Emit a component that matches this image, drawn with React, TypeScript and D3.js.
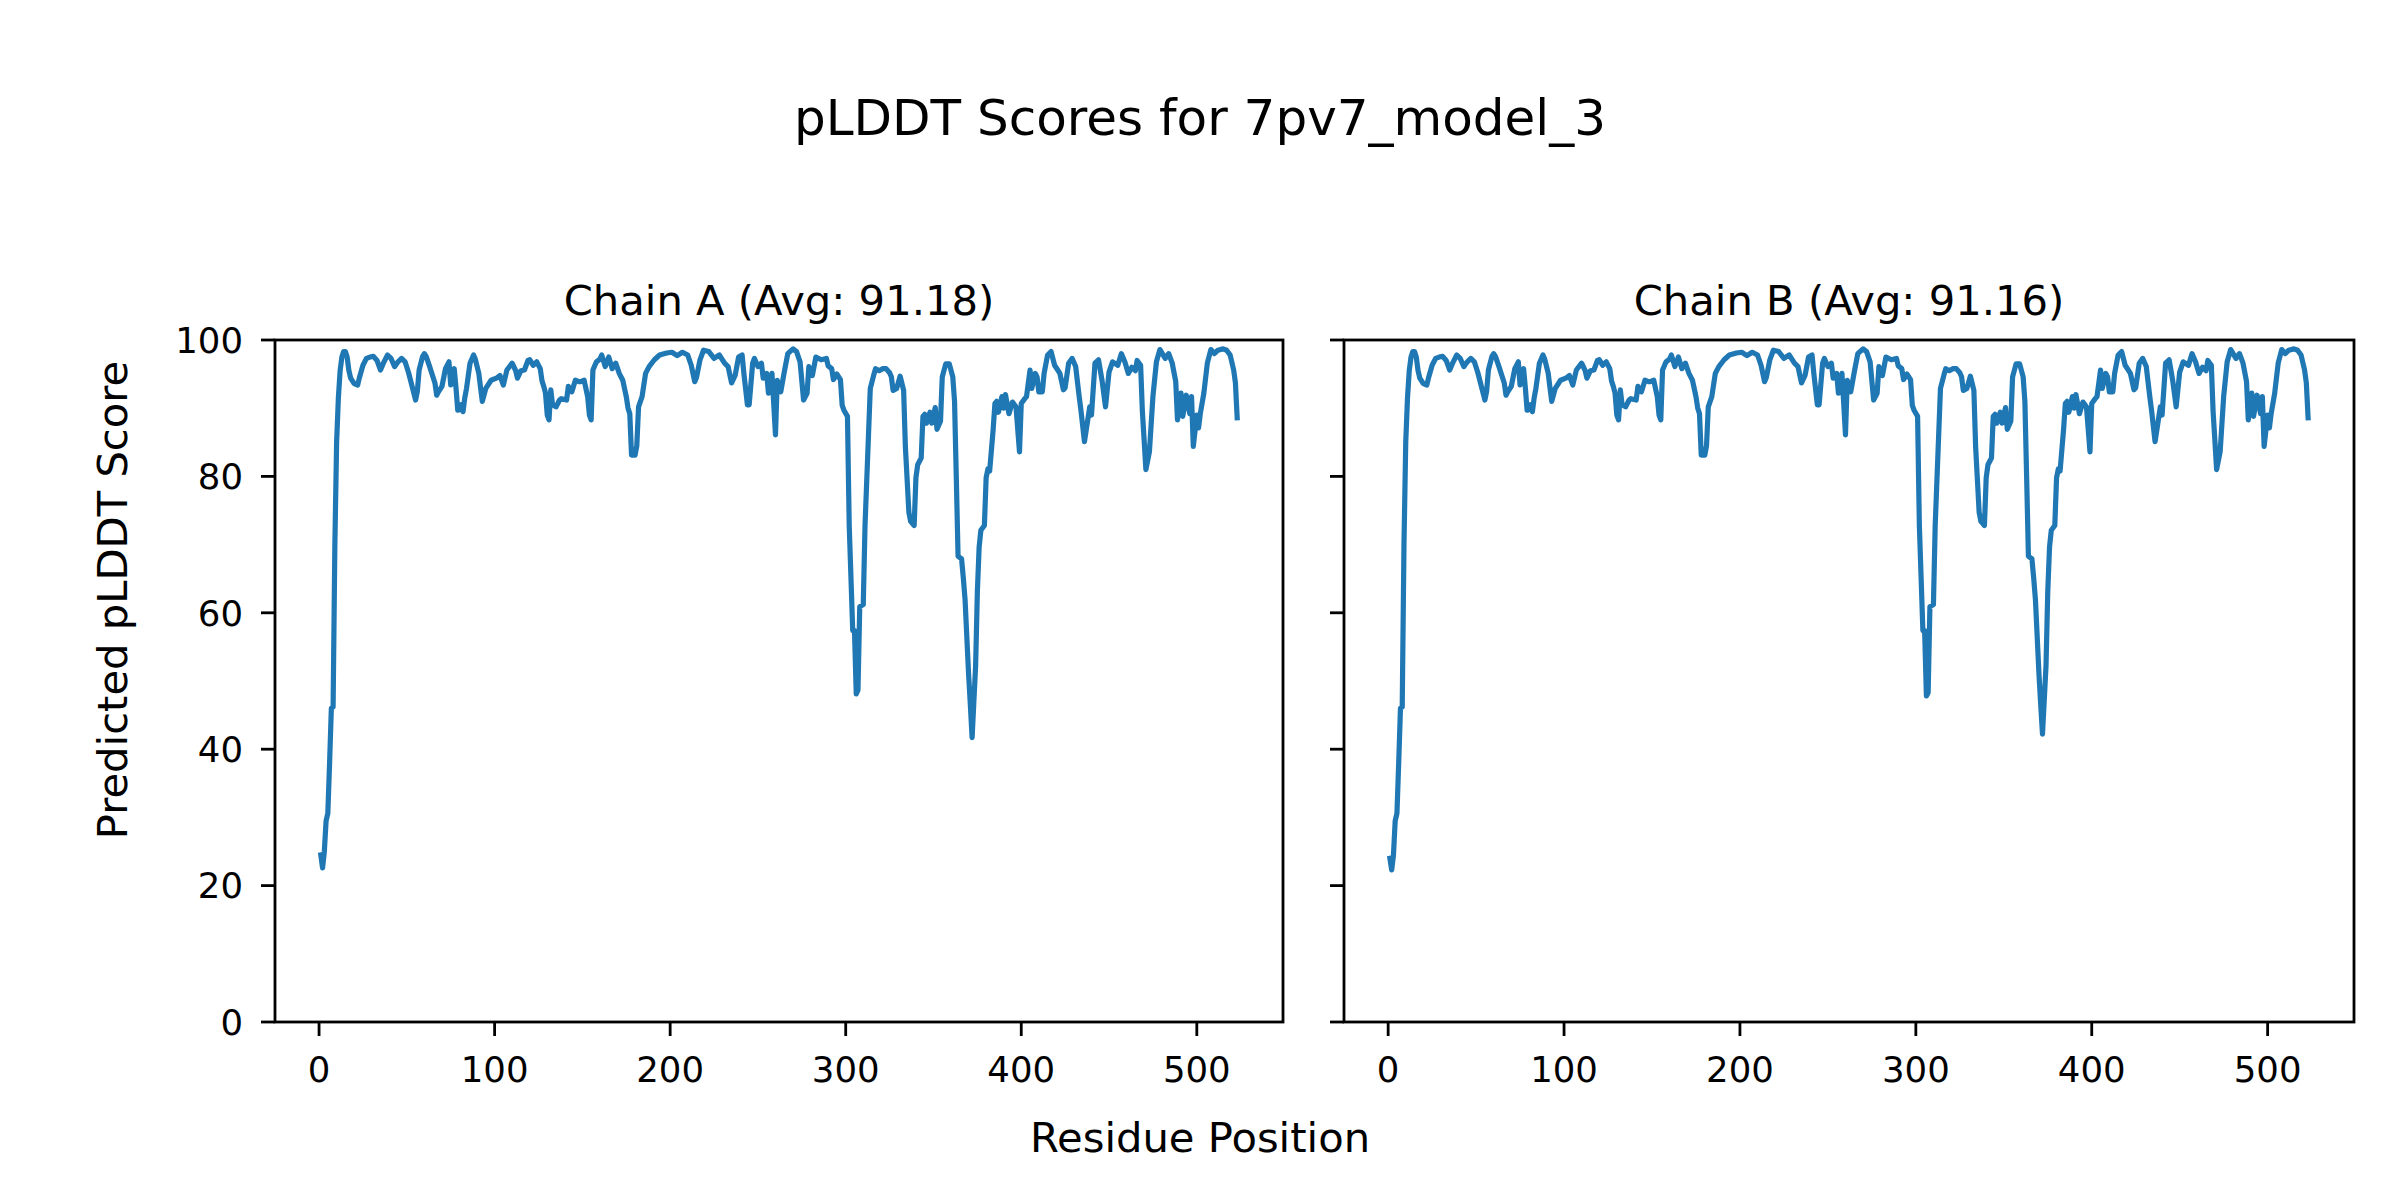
import React from "react";
import * as d3 from "d3";

const figureTitle = "pLDDT Scores for 7pv7_model_3";
const chainTitles = ["Chain A (Avg: 91.18)", "Chain B (Avg: 91.16)"];
const xAxisLabel = "Residue Position";
const yAxisLabel = "Predicted pLDDT Score";
const xTicks = [0, 100, 200, 300, 400, 500];
const yTicks = [0, 20, 40, 60, 80, 100];
const residueCount = 523;

// [residue, pLDDT], chain A
const chainAPoints: [number, number][] = [
  [1, 24.5], [2, 22.6], [3, 25.0], [4, 29.5], [5, 30.6], [6, 38], [7, 46], [8, 46.2], [9, 70], [10, 85],
  [11, 91.5], [12, 95.5], [13, 97.5], [14, 98.3], [15, 98.3], [16, 97.5], [17, 95.5], [18, 94.4], [20, 93.6], [22, 93.4],
  [23, 94.5], [25, 96.3], [27, 97.3], [29, 97.5], [31, 97.6], [33, 97], [35, 95.6], [37, 96.8], [39, 97.8], [41, 97.3],
  [43, 96.1], [45, 96.8], [47, 97.3], [49, 96.8], [51, 95.2], [53, 93.2], [55, 91.2], [56, 92.5], [57, 95.6], [59, 97.6],
  [60, 98], [61, 97.6], [63, 96.1], [65, 94.5], [66, 93.7], [67, 91.9], [68, 92.4], [70, 93.2], [72, 95.8], [74, 96.8],
  [75, 93.4], [76, 94.8], [77, 95.8], [78, 93], [79, 89.7], [80, 89.8], [81, 90.5], [82, 89.5], [83, 91.5], [84, 92.9],
  [86, 96.6], [88, 97.8], [89, 97.2], [91, 95.1], [92, 93], [93, 91], [95, 92.9], [98, 94.1], [101, 94.4], [103, 94.8],
  [105, 93.4], [107, 95.6], [110, 96.6], [112, 95.5], [113, 94.4], [115, 95.5], [117, 95.6], [119, 97], [120, 97.1], [122, 96.3],
  [124, 96.8], [126, 95.8], [127, 94], [128, 93.2], [129, 92.2], [130, 89], [131, 88.3], [132, 92.7], [133, 90.5], [135, 90.2],
  [137, 91.2], [138, 91.4], [141, 91.2], [142, 93.2], [144, 92.4], [146, 94.1], [148, 93.9], [149, 93.9], [151, 94.1], [153, 91.7],
  [154, 89], [155, 88.3], [156, 95.6], [158, 96.8], [160, 97.2], [161, 97.8], [163, 96.1], [165, 97.5], [167, 95.8], [169, 96.6],
  [171, 95.1], [173, 94.1], [175, 91.7], [176, 90], [177, 89.2], [178, 83.1], [180, 83.1], [181, 84.5], [182, 90.2], [184, 91.7],
  [186, 95.1], [188, 96.1], [191, 97.1], [194, 97.8], [198, 98.1], [201, 98.2], [204, 97.7], [207, 98.2], [210, 97.8], [212, 96.3],
  [214, 93.9], [215, 94.5], [217, 97.1], [219, 98.5], [222, 98.3], [225, 97.3], [228, 97.8], [231, 96.6], [233, 96.1], [235, 93.7],
  [237, 94.8], [239, 97.5], [241, 97.8], [242, 95.1], [244, 90.5], [245, 90.5], [247, 96.6], [248, 97.3], [250, 96.1], [252, 96.6],
  [253, 94.4], [255, 95.1], [256, 92.2], [258, 95.1], [260, 86.1], [261, 94.1], [263, 92.4], [265, 95.3], [267, 98], [270, 98.7],
  [272, 98.3], [274, 96.8], [276, 91.2], [278, 92.2], [279, 96.1], [281, 94.8], [283, 97.5], [286, 97.1], [289, 97.3], [290, 96.2],
  [292, 95.8], [293, 94.2], [295, 95], [297, 94.2], [298, 90.4], [299, 89.7], [301, 88.8], [302, 72.8], [304, 57.4], [305, 57.4],
  [306, 48.1], [307, 48.7], [308, 60.9], [310, 61.2], [311, 72.8], [313, 86.2], [314, 92.9], [316, 94.9], [317, 95.8], [319, 95.5],
  [321, 95.8], [323, 95.8], [325, 95.2], [326, 94.6], [327, 92.6], [329, 92.9], [331, 94.7], [333, 92.6], [334, 84.3], [336, 74.7],
  [337, 73.4], [339, 72.8], [340, 79.8], [341, 81.7], [343, 82.7], [344, 88.8], [345, 89.1], [346, 87.8], [348, 89.4], [349, 87.8],
  [351, 90.1], [352, 86.9], [354, 88.1], [355, 94.6], [357, 96.5], [359, 96.5], [361, 94.6], [362, 91], [363, 79.8], [364, 68.3],
  [366, 67.9], [367, 65.1], [368, 61.9], [370, 51], [371, 46.5], [372, 41.7], [374, 52.2], [375, 63.1], [376, 69.6], [377, 72.1],
  [379, 72.8], [380, 79.8], [381, 81.1], [382, 80.8], [384, 86.9], [385, 90.7], [386, 91], [387, 89.4], [389, 91.7], [390, 90],
  [391, 92], [393, 89.2], [395, 90.9], [397, 90.2], [399, 83.6], [400, 90.7], [402, 91.4], [403, 91.7], [405, 95.6], [406, 92.9],
  [408, 95.1], [409, 94.6], [410, 92.4], [412, 92.4], [413, 95.1], [415, 97.8], [417, 98.3], [419, 96.3], [422, 95.1], [424, 92.7],
  [425, 93], [427, 96.6], [429, 97.3], [431, 96.1], [433, 91.7], [434, 89.7], [436, 85.1], [437, 86.8], [439, 90.2], [440, 89],
  [442, 96.6], [444, 97.1], [446, 94.1], [448, 90.2], [450, 95.3], [452, 96.8], [455, 96.3], [457, 98], [459, 96.8], [461, 95.1],
  [463, 96], [465, 95.5], [466, 97], [468, 96.3], [469, 89.5], [470, 85.3], [471, 81], [473, 83.6], [475, 91.7], [477, 96.8],
  [479, 98.6], [482, 97.3], [484, 98], [486, 96.6], [488, 93.9], [489, 88.3], [491, 92.2], [492, 88.8], [494, 91.9], [496, 89.2],
  [497, 91.7], [498, 84.4], [500, 89], [501, 87.1], [502, 89.2], [504, 92.2], [506, 96.6], [508, 98.6], [510, 98], [512, 98.5],
  [515, 98.7], [517, 98.5], [519, 97.8], [521, 95.6], [522, 93.7], [523, 88.6],
];

// chain B differs from chain A only at a few residues
const chainBDifferences: [number, number][] = [
  [1, 24.0], [2, 22.3], [3, 24.4], [306, 47.8], [307, 48.3], [372, 42.2],
];

const lineColor = "#1f77b4";
const font = "'DejaVu Sans', sans-serif";

const W = 2400;
const H = 1200;
const panelTop = 340;
const panelBottom = 1022;
const panels = [
  { left: 275, right: 1283 },
  { left: 1344, right: 2354 },
];

export default function App() {
  const diffMap = new Map(chainBDifferences);
  const chainBPoints: [number, number][] = chainAPoints.map(
    ([r, v]) => [r, diffMap.has(r) ? (diffMap.get(r) as number) : v]
  );
  const series = [chainAPoints, chainBPoints];

  const margin = 0.05 * (residueCount - 1);
  const y = d3.scaleLinear().domain([0, 100]).range([panelBottom, panelTop]);

  return (
    <svg
      width={W}
      height={H}
      viewBox={`0 0 ${W} ${H}`}
      style={{ position: "absolute", left: 0, top: 0, display: "block", background: "#fff" }}
      fontFamily={font}
    >
      <rect x={0} y={0} width={W} height={H} fill="#fff" />
      <text x={1200} y={135} textAnchor="middle" fontSize={50} fill="#000">
        {figureTitle}
      </text>
      {panels.map((p, i) => {
        const x = d3
          .scaleLinear()
          .domain([1 - margin, residueCount + margin])
          .range([p.left, p.right]);
        const line = d3
          .line<[number, number]>()
          .x((d) => x(d[0]))
          .y((d) => y(d[1]));
        const cx = (p.left + p.right) / 2;
        return (
          <g key={i}>
            <text x={cx} y={315} textAnchor="middle" fontSize={41.7} fill="#000">
              {chainTitles[i]}
            </text>
            <defs>
              <clipPath id={`clip${i}`}>
                <rect x={p.left} y={panelTop} width={p.right - p.left} height={panelBottom - panelTop} />
              </clipPath>
            </defs>
            <path
              d={line(series[i]) || ""}
              fill="none"
              stroke={lineColor}
              strokeWidth={5.2}
              strokeLinejoin="round"
              strokeLinecap="square"
              clipPath={`url(#clip${i})`}
            />
            <rect
              x={p.left}
              y={panelTop}
              width={p.right - p.left}
              height={panelBottom - panelTop}
              fill="none"
              stroke="#000"
              strokeWidth={2.8}
            />
            {xTicks.map((t) => (
              <g key={`x${t}`}>
                <line x1={x(t)} x2={x(t)} y1={panelBottom} y2={panelBottom + 14} stroke="#000" strokeWidth={2.8} />
                <text x={x(t)} y={1082} textAnchor="middle" fontSize={35.5} fill="#000">
                  {t}
                </text>
              </g>
            ))}
            {yTicks.map((t) => (
              <g key={`y${t}`}>
                <line x1={p.left - 14} x2={p.left} y1={y(t)} y2={y(t)} stroke="#000" strokeWidth={2.8} />
                {i === 0 && (
                  <text x={p.left - 32} y={y(t) + 12.8} textAnchor="end" fontSize={35.5} fill="#000">
                    {t}
                  </text>
                )}
              </g>
            ))}
          </g>
        );
      })}
      <text x={1200} y={1152} textAnchor="middle" fontSize={41.7} fill="#000">
        {xAxisLabel}
      </text>
      <text transform="translate(127,600) rotate(-90)" textAnchor="middle" fontSize={41.7} fill="#000">
        {yAxisLabel}
      </text>
    </svg>
  );
}
